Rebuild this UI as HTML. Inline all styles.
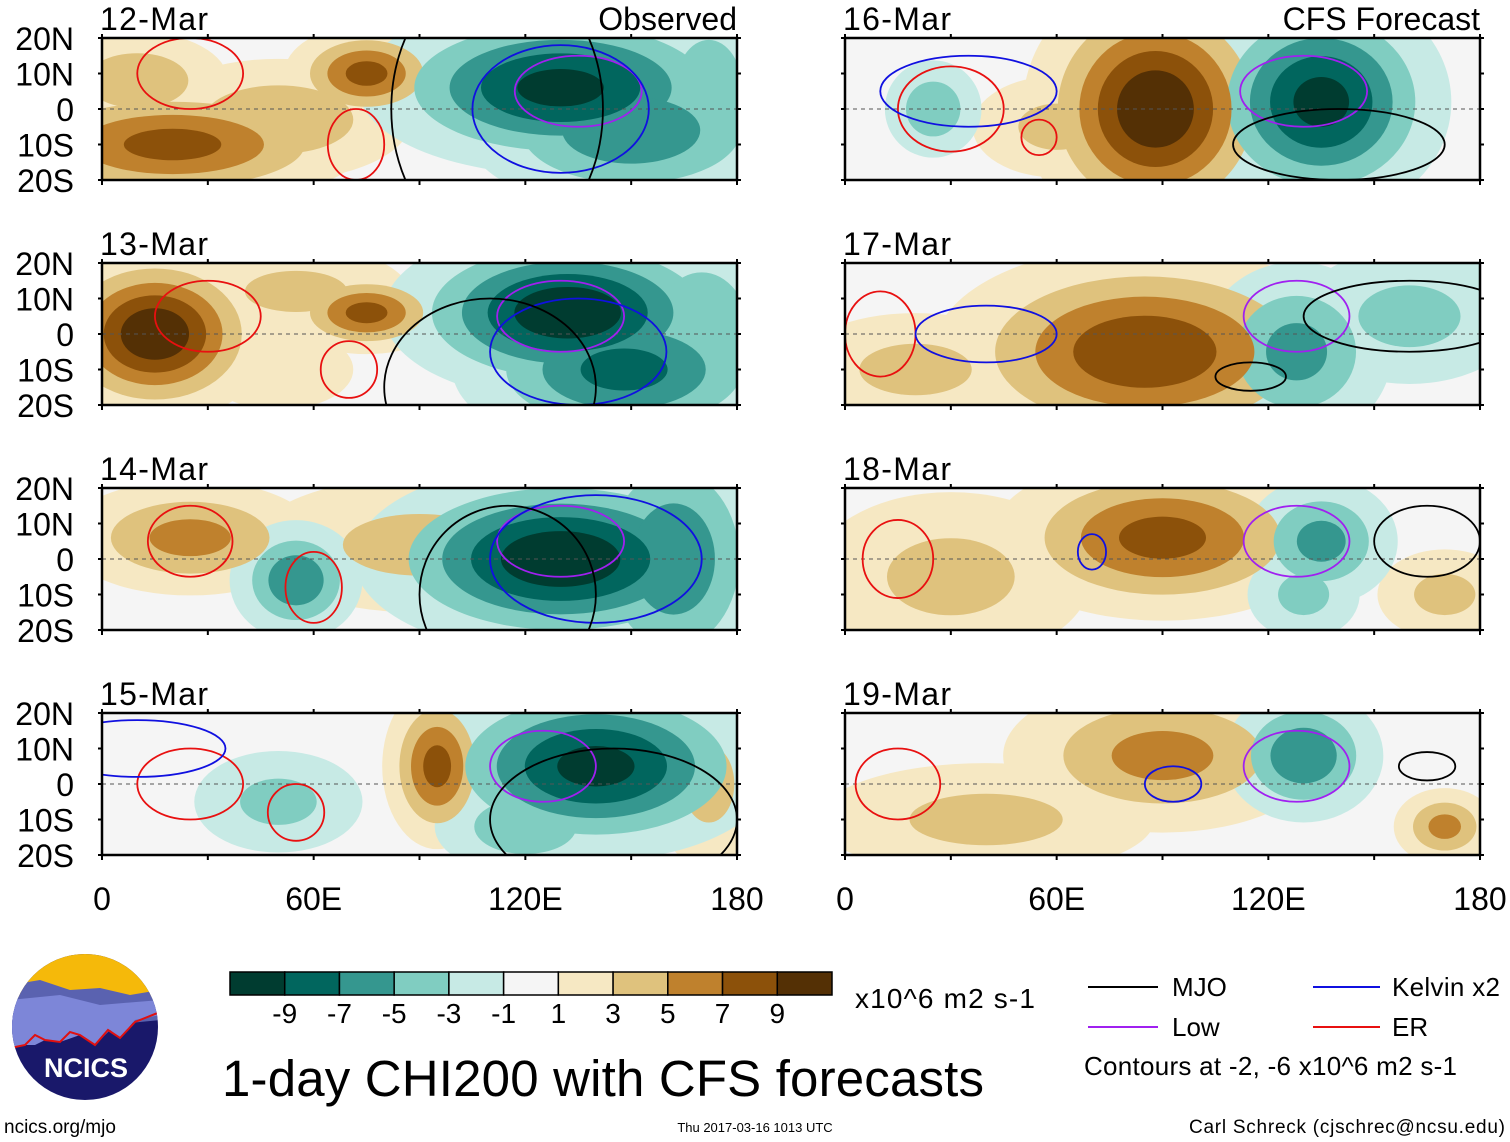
<!DOCTYPE html>
<html><head><meta charset="utf-8"><style>
body{margin:0;background:#fff;}
svg{display:block;font-family:"Liberation Sans",Arial,sans-serif;}
</style></head><body>
<svg id="chart" width="1510" height="1142" viewBox="0 0 1510 1142" xmlns="http://www.w3.org/2000/svg">
<g id="panels"></g>
<g id="axes"></g>
<g id="cbar"></g>

<g font-size="26">
 <line x1="1088" y1="987" x2="1158" y2="987" stroke="#000" stroke-width="2"/>
 <text x="1172" y="996">MJO</text>
 <line x1="1313" y1="987" x2="1380" y2="987" stroke="#1010e0" stroke-width="2"/>
 <text x="1392" y="996" textLength="108">Kelvin x2</text>
 <line x1="1088" y1="1027" x2="1158" y2="1027" stroke="#a020f0" stroke-width="2"/>
 <text x="1172" y="1036">Low</text>
 <line x1="1313" y1="1027" x2="1380" y2="1027" stroke="#e81010" stroke-width="2"/>
 <text x="1392" y="1036">ER</text>
 <text x="1084" y="1075" textLength="373">Contours at -2, -6 x10^6 m2 s-1</text>
</g>
<text x="222" y="1096" font-size="51" textLength="762">1-day CHI200 with CFS forecasts</text>
<text x="855" y="1008" font-size="28" textLength="180">x10^6 m2 s-1</text>
<text x="4" y="1133" font-size="19">ncics.org/mjo</text>
<text x="755" y="1132" font-size="13" text-anchor="middle">Thu 2017-03-16 1013 UTC</text>
<text x="1505" y="1133" font-size="19" text-anchor="end" textLength="316">Carl Schreck (cjschrec@ncsu.edu)</text>

<g>
 <clipPath id="lc"><circle cx="85" cy="1027" r="73"/></clipPath>
 <g clip-path="url(#lc)">
  <rect x="10" y="952" width="150" height="150" fill="#19186a"/>
  <rect x="10" y="952" width="150" height="45" fill="#f5b90a"/>
  <path d="M10 985 L40 980 L70 990 L100 988 L130 995 L160 990 L160 1020 L10 1035Z" fill="#5a62b0"/>
  <path d="M10 1000 L60 995 L100 1005 L160 1000 L160 1015 L135 1020 L120 1038 L110 1030 L95 1045 L80 1035 L60 1042 L45 1040 L35 1045 L25 1045 L10 1048Z" fill="#7d86d8"/>
  <path d="M10 1048 L25 1045 L35 1035 L45 1040 L60 1042 L70 1032 L80 1035 L95 1045 L108 1030 L120 1038 L135 1022 L160 1012" fill="none" stroke="#e01010" stroke-width="2"/>
 </g>
 <text x="86" y="1077" font-size="27" font-weight="bold" fill="#fff" text-anchor="middle">NCICS</text>
</g>
</svg>
<script>
const NS="http://www.w3.org/2000/svg";
const panelDates=["12-Mar","13-Mar","14-Mar","15-Mar","16-Mar","17-Mar","18-Mar","19-Mar"];
const latTicks=["20N","10N","0","10S","20S"];
const latVals=[20,10,0,-10,-20];
const lonTicks=["0","60E","120E","180"];
const lonVals=[0,60,120,180];
const cbarLevels=[-9,-7,-5,-3,-1,1,3,5,7,9];
const cbarColors=["#003c30","#01665e","#35978f","#80cdc1","#c7eae5","#f5f5f5","#f6e8c3","#dfc27d","#bf812d","#8c510a","#543005"];
// anomaly blobs per panel: [lon, lat, lonRadius, latRadius, amplitude]
const blobs0=[[20,-10,28,9,8],[75,10,12,7,8],[50,-3,22,10,5],[10,8,15,8,5],[130,6,28,12,-10],[150,-6,25,12,-7],[172,5,10,15,-5]];
const blobs1=[[15,0,16,12,11],[75,6,12,6,8],[55,12,20,8,4],[50,-10,15,8,3],[132,6,25,12,-11],[148,-10,25,12,-8],[170,0,14,18,-5]];
const blobs2=[[25,6,20,9,6],[90,4,30,12,4],[55,-6,10,9,-7],[130,0,28,13,-11],[162,0,15,20,-7]];
const blobs3=[[95,5,8,12,8],[172,0,10,15,4],[50,-5,15,9,-4],[140,5,25,13,-10],[120,-12,15,8,-5]];
const blobs4=[[88,0,18,18,11],[60,-5,15,9,4],[135,2,18,16,-10],[25,0,8,8,-5]];
const blobs5=[[85,-5,30,15,9],[20,-10,22,10,4],[128,-5,15,14,-6],[160,5,20,12,-4]];
const blobs6=[[90,6,25,12,8],[30,-5,25,15,4],[170,-10,12,8,4],[135,5,12,10,-6],[130,-10,10,8,-4]];
const blobs7=[[90,8,25,12,6],[40,-10,30,10,4],[170,-12,8,6,6],[130,8,12,10,-7]];
const blobSets=[blobs0,blobs1,blobs2,blobs3,blobs4,blobs5,blobs6,blobs7];
// contours per panel: [type, lon, lat, lonRadius, latRadius]
const cont0=[["er",25,10,15,10],["er",72,-10,8,10],["low",135,5,18,10],["kel",130,0,25,18],["mjo",112,0,30,40]];
const cont1=[["er",30,5,15,10],["er",70,-10,8,8],["low",130,5,18,10],["kel",135,-5,25,15],["mjo",110,-15,30,25]];
const cont2=[["er",25,5,12,10],["er",60,-8,8,10],["low",130,5,18,10],["kel",140,0,30,18],["mjo",115,-10,25,25]];
const cont3=[["er",25,0,15,10],["er",55,-8,8,8],["low",125,5,15,10],["kel",10,10,25,8],["mjo",145,-10,35,20]];
const cont4=[["er",30,0,15,12],["er",55,-8,5,5],["low",130,5,18,10],["kel",35,5,25,10],["mjo",140,-10,30,10]];
const cont5=[["er",10,0,10,12],["low",128,5,15,10],["kel",40,0,20,8],["mjo",160,5,30,10],["mjo",115,-12,10,4]];
const cont6=[["er",15,0,10,11],["low",128,5,15,10],["kel",70,2,4,5],["mjo",165,5,15,10]];
const cont7=[["er",15,0,12,10],["low",128,5,15,10],["kel",93,0,8,5],["mjo",165,5,8,4]];
const contSets=[cont0,cont1,cont2,cont3,cont4,cont5,cont6,cont7];
const contColor={mjo:"#000",kel:"#1010e0",low:"#a020f0",er:"#e81010"};

const panelsG=document.getElementById("panels");
const axesG=document.getElementById("axes");
const PW=635,PH=142;
const colX=[102,845], rowY=[38,263,488,713];
function mk(tag,attrs,parent){const e=document.createElementNS(NS,tag);for(const k in attrs)e.setAttribute(k,attrs[k]);parent.appendChild(e);return e;}
function colorFor(t){
  const i=cbarLevels.indexOf(t);
  return t>0?cbarColors[i+1]:cbarColors[i];
}
for(let p=0;p<8;p++){
  const px=colX[Math.floor(p/4)], py=rowY[p%4];
  const xs=lon=>px+lon/180*PW, ys=lat=>py+(20-lat)/40*PH;
  const g=mk("g",{},panelsG);
  
  
  const cp=mk("clipPath",{id:"cp"+p},g);
  mk("rect",{x:px,y:py,width:PW,height:PH},cp);
  const inner=mk("g",{"clip-path":"url(#cp"+p+")"},g);
  mk("rect",{x:px,y:py,width:PW,height:PH,fill:"#f5f5f5"},inner);
  const bl=blobSets[p];
  const ths=[1,3,5,7,9];
  ths.forEach(t=>{
    bl.forEach(b=>{
      const A=Math.abs(b[4]); if(A<=t) return;
      const s=Math.sqrt(Math.log(A/t))*1.35;
      const e=mk("ellipse",{cx:xs(b[0]),cy:ys(b[1]),rx:b[2]/180*PW*s,ry:b[3]/40*PH*s,fill:colorFor(b[4]>0?t:-t)},inner);
      
      
    });
  });
  mk("line",{x1:px,y1:ys(0),x2:px+PW,y2:ys(0),stroke:"#555","stroke-dasharray":"4,4","stroke-width":1},inner);
  contSets[p].forEach(c=>{
    const e=mk("ellipse",{cx:xs(c[1]),cy:ys(c[2]),rx:c[3]/180*PW,ry:c[4]/40*PH,fill:"none",stroke:contColor[c[0]],"stroke-width":1.8},inner);
    
    
  });
  mk("rect",{x:px,y:py,width:PW,height:PH,fill:"none",stroke:"#000","stroke-width":2.5},g);
  for(let lon=0;lon<=180;lon+=30){mk("line",{x1:xs(lon),y1:py+PH,x2:xs(lon),y2:py+PH+5,stroke:"#000","stroke-width":2},g);mk("line",{x1:xs(lon),y1:py,x2:xs(lon),y2:py-4,stroke:"#000","stroke-width":2},g);}
  latVals.forEach(l=>{mk("line",{x1:px-4,y1:ys(l),x2:px,y2:ys(l),stroke:"#000","stroke-width":2},g);mk("line",{x1:px+PW,y1:ys(l),x2:px+PW+4,y2:ys(l),stroke:"#000","stroke-width":2},g);});
  const t=mk("text",{x:px-2,y:py-8,"font-size":32,textLength:108},g); t.textContent=panelDates[p];
  
  
  if(p%4===0){
    const lbl=mk("text",{x:px+PW,y:py-8,"font-size":32,"text-anchor":"end"},g);
    lbl.textContent=p===0?"Observed":"CFS Forecast";
    
    
  }
  if(p<4){
    latTicks.forEach((s,i)=>{const tt=mk("text",{x:74,y:ys(latVals[i])+12,"font-size":32,"text-anchor":"end"},axesG);tt.textContent=s;
      
      });
  }
  if(p%4===3){
    lonTicks.forEach((s,i)=>{const tt=mk("text",{x:xs(lonVals[i]),y:910,"font-size":32,"text-anchor":"middle"},axesG);tt.textContent=s;
      
      });
  }
}
const cb=document.getElementById("cbar");
const cbx=230,cbw=602/11;
cbarColors.forEach((c,i)=>{const r=mk("rect",{x:cbx+i*cbw,y:972,width:cbw,height:23,fill:c,stroke:"#000","stroke-width":1.5},cb);
  
  });
cbarLevels.forEach((v,i)=>{const t=mk("text",{x:cbx+(i+1)*cbw,y:1023,"font-size":28,"text-anchor":"middle"},cb);t.textContent=v;
  
  });
</script>
</body></html>
